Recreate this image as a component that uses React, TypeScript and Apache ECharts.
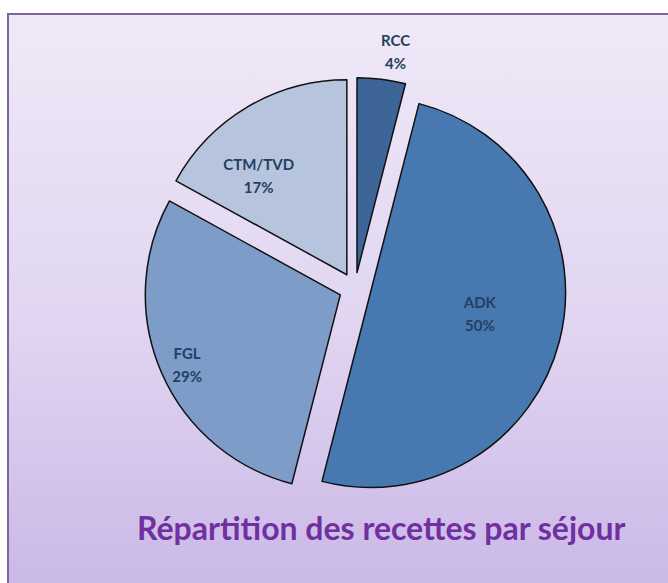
import React, { useEffect, useRef } from "react";
import * as echarts from "echarts";

const categories = ["RCC", "ADK", "FGL", "CTM/TVD"];
const values = [4, 50, 29, 17];
const sliceColors = ["#3d6597", "#4878b0", "#7d9cc8", "#b6c4de"];
const labelShift = [
  [26, -121],
  [12, -4],
  [-61, 30],
  [-37, -13],
];
const titleText = "Répartition des recettes par séjour";

export default function App() {
  const ref = useRef<HTMLDivElement>(null);
  useEffect(() => {
    if (!ref.current) return;
    const chart = echarts.init(ref.current, undefined, { renderer: "svg" });
    chart.setOption({
      animation: false,
      backgroundColor: "#ffffff",
      graphic: [
        {
          type: "rect",
          z: -10,
          silent: true,
          shape: { x: 8, y: 14, width: 700, height: 620 },
          style: {
            fill: new echarts.graphic.LinearGradient(0, 0, 0, 1, [
              { offset: 0, color: "#efe9f7" },
              { offset: 0.5, color: "#e1d5f1" },
              { offset: 1, color: "#c6b3e5" },
            ]),
            stroke: "#8064a2",
            lineWidth: 2,
          },
        },
      ],
      title: {
        text: titleText,
        left: 132,
        top: 506,
        textStyle: {
          fontFamily: "Lato",
          fontSize: 32,
          fontWeight: "bold",
          color: "#7030a0",
        },
      },
      series: [
        {
          type: "pie",
          center: [355, 288.5],
          radius: [0, 195],
          startAngle: 90,
          clockwise: true,
          selectedMode: "multiple",
          selectedOffset: 16,
          percentPrecision: 0,
          avoidLabelOverlap: false,
          emphasis: { disabled: true },
          itemStyle: { borderColor: "#111111", borderWidth: 1.5 },
          select: {
            itemStyle: { borderColor: "#111111", borderWidth: 1.5 },
          },
          label: {
            show: true,
            position: "inside",
            formatter: "{b}\n{d}%",
            fontFamily: "Lato",
            fontSize: 15,
            fontWeight: "bold",
            lineHeight: 23,
            color: "#243f60",
          },
          labelLine: { show: false },
          labelLayout: (p: any) => ({
            dx: labelShift[p.dataIndex][0],
            dy: labelShift[p.dataIndex][1],
          }),
          data: categories.map((c, i) => ({
            name: c,
            value: values[i],
            selected: true,
            itemStyle: { color: sliceColors[i] },
          })),
        },
      ],
    });
    return () => chart.dispose();
  }, []);
  return (
    <div
      ref={ref}
      style={{ position: "fixed", left: 0, top: 0, width: 668, height: 583 }}
    />
  );
}
